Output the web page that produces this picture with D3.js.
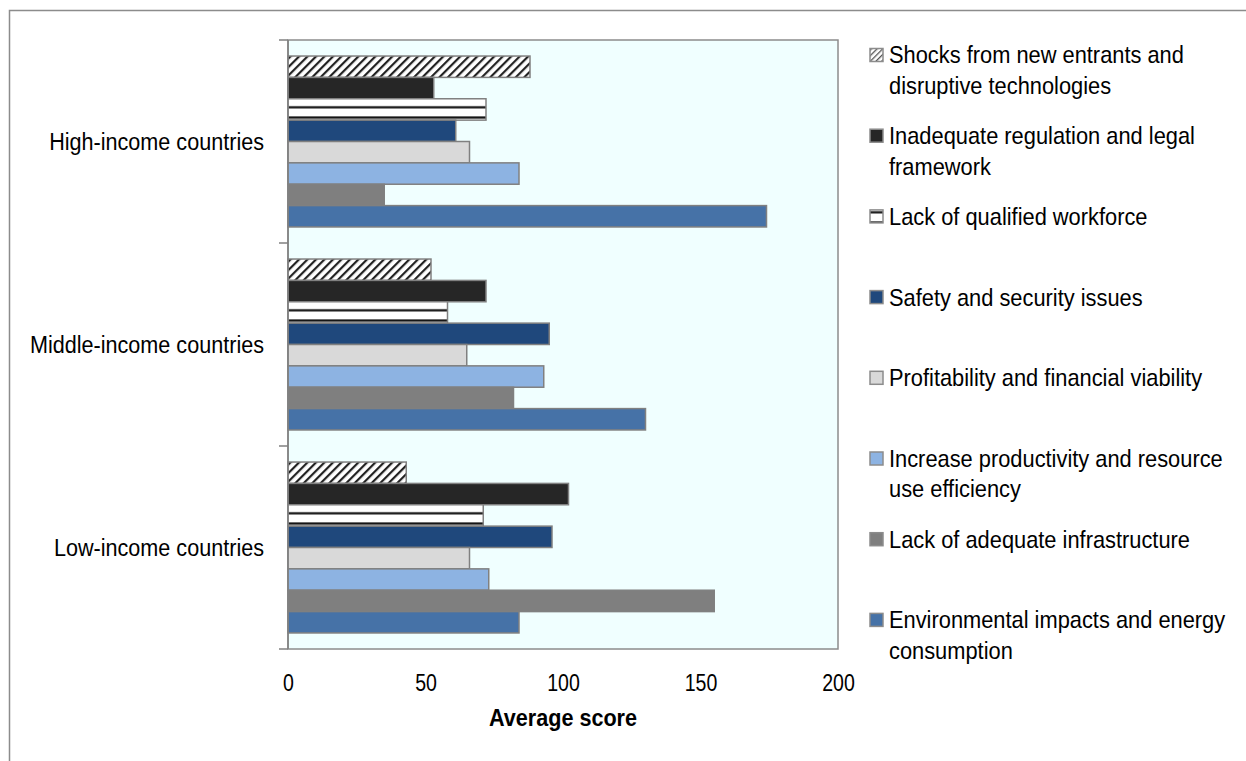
<!DOCTYPE html>
<html><head><meta charset="utf-8">
<script src="https://cdn.jsdelivr.net/npm/d3@7"></script>
<style>
body{margin:0;background:#fff}
svg{display:block}
text{font-family:"Liberation Sans",Arial,sans-serif;fill:#000}
</style>
</head><body>
<svg id="c" width="1246" height="761"></svg>
<script>
// ---------------- data ----------------
const categories = ["High-income countries", "Middle-income countries", "Low-income countries"];
const seriesNames = [
  "Shocks from new entrants and disruptive technologies",
  "Inadequate regulation and legal framework",
  "Lack of qualified workforce",
  "Safety and security issues",
  "Profitability and financial viability",
  "Increase productivity and resource use efficiency",
  "Lack of adequate infrastructure",
  "Environmental impacts and energy consumption"
];
const legendLines = [
  ["Shocks from new entrants and", "disruptive technologies"],
  ["Inadequate regulation and legal", "framework"],
  ["Lack of qualified workforce"],
  ["Safety and security issues"],
  ["Profitability and financial viability"],
  ["Increase productivity and resource", "use efficiency"],
  ["Lack of adequate infrastructure"],
  ["Environmental impacts and energy", "consumption"]
];
const shocks         = [88, 52, 43];
const regulation     = [53, 72, 102];
const workforce      = [72, 58, 71];
const safety         = [61, 95, 96];
const profitability  = [66, 65, 66];
const productivity   = [84, 93, 73];
const infrastructure = [35, 82, 155];
const environmental  = [174, 130, 84];
const xTicks = [0, 50, 100, 150, 200];
const xTitle = "Average score";

const seriesValues = [shocks, regulation, workforce, safety, profitability, productivity, infrastructure, environmental];
const fills = ["url(#hatch)", "#262626", "url(#hstripe)", "#1F487C", "#D9D9D9", "#8DB3E2", "#7F7F7F", "#4672A7"];

// ---------------- layout ----------------
const svg = d3.select("#c");
const P = {left: 288, right: 838, top: 40, bottom: 649};

const defs = svg.append("defs");
const hatch = defs.append("pattern").attr("id", "hatch").attr("patternUnits", "userSpaceOnUse")
  .attr("width", 6).attr("height", 6).attr("patternTransform", "rotate(45)");
hatch.append("rect").attr("width", 6).attr("height", 6).attr("fill", "#fff");
hatch.append("rect").attr("x", 0).attr("width", 2.2).attr("height", 6).attr("fill", "#222");

const hs = defs.append("pattern").attr("id", "hstripe").attr("patternUnits", "userSpaceOnUse")
  .attr("width", 10).attr("height", 10.2);
hs.append("rect").attr("width", 10).attr("height", 10.2).attr("fill", "#fff");
hs.append("rect").attr("y", 5).attr("width", 10).attr("height", 2.2).attr("fill", "#111");

const hatchS = defs.append("pattern").attr("id", "hatchS").attr("patternUnits", "userSpaceOnUse")
  .attr("width", 4).attr("height", 4).attr("patternTransform", "rotate(45)");
hatchS.append("rect").attr("width", 4).attr("height", 4).attr("fill", "#fff");
hatchS.append("rect").attr("width", 1.3).attr("height", 4).attr("fill", "#555");

// outer frame
svg.append("rect").attr("x", 9.5).attr("y", 10.5).attr("width", 1300).attr("height", 900)
  .attr("fill", "none").attr("stroke", "#8c8c8c").attr("stroke-width", 1.5);

// scales
const x = d3.scaleLinear().domain([0, 200]).range([P.left, P.right]);
const y0 = d3.scaleBand().domain(categories).range([P.top, P.bottom]).padding(0);
const y1 = d3.scaleBand().domain(d3.range(seriesNames.length))
  .range([y0.bandwidth() * 0.079, y0.bandwidth() * 0.921]).padding(0);

// plot background
svg.append("rect").attr("x", P.left).attr("y", P.top).attr("width", P.right - P.left).attr("height", P.bottom - P.top)
  .attr("fill", "#F0FFFF").attr("stroke", "#8c8c8c").attr("stroke-width", 1.5);

// bars
const groups = svg.append("g").selectAll("g").data(categories).join("g")
  .attr("transform", d => `translate(0,${y0(d)})`);
groups.selectAll("rect").data((c, ci) => seriesValues.map((vals, si) => ({si, v: vals[ci]})))
  .join("rect")
  .attr("x", x(0))
  .attr("y", d => y1(d.si))
  .attr("width", d => x(d.v) - x(0))
  .attr("height", y1.bandwidth())
  .attr("fill", d => fills[d.si])
  .attr("stroke", "#808080").attr("stroke-width", 1.5);

// y axis (category boundary ticks)
const yAxisG = svg.append("g").attr("transform", `translate(${P.left},0)`);
yAxisG.append("line").attr("x1", 0).attr("x2", 0).attr("y1", P.top).attr("y2", P.bottom)
  .attr("stroke", "#808080").attr("stroke-width", 1.5);
const bounds = categories.map(c => y0(c)).concat([P.bottom]);
yAxisG.selectAll("line.tk").data(bounds).join("line").attr("class", "tk")
  .attr("x1", -9).attr("x2", 0).attr("y1", d => d).attr("y2", d => d)
  .attr("stroke", "#808080").attr("stroke-width", 1.5);
yAxisG.selectAll("text").data(categories).join("text")
  .attr("text-anchor", "end")
  .attr("transform", d => `translate(-24,${y0(d) + y0.bandwidth() / 2}) scale(0.9,1)`)
  .attr("dy", "0.35em")
  .style("font-size", "24px")
  .text(d => d);

// x axis
const xAxis = d3.axisBottom(x).tickValues(xTicks).tickSize(0).tickPadding(0).tickFormat(d3.format("d"));
const xg = svg.append("g").attr("transform", `translate(0,${P.bottom})`).call(xAxis);
xg.select(".domain").remove();
xg.selectAll("text").attr("y", 42).attr("dy", 0).attr("transform", "scale(0.85,1)")
  .style("font-size", "23px").attr("fill", "#000");

svg.append("text").attr("transform", `translate(${(P.left + P.right) / 2},726) scale(0.9,1)`)
  .attr("text-anchor", "middle").style("font-size", "24px").style("font-weight", "bold").text(xTitle);

// legend
const lg = svg.append("g");
const legendFills = ["url(#hatchS)", "#262626", "url(#hstripe)", "#1F487C", "#D9D9D9", "#8DB3E2", "#7F7F7F", "#4672A7"];
const item = lg.selectAll("g").data(seriesNames).join("g")
  .attr("transform", (d, i) => `translate(870,${55 + i * 80.7})`);
item.append("rect").attr("x", 0).attr("y", -6.5).attr("width", 13).attr("height", 13)
  .attr("fill", (d, i) => legendFills[i]).attr("stroke", "#8c8c8c").attr("stroke-width", 1.5);
item.each(function(d, i) {
  const g = d3.select(this);
  legendLines[i].forEach((ln, k) => {
    g.append("text").attr("transform", `translate(19,${k * 30.5}) scale(0.91,1)`).attr("dy", "0.35em")
      .style("font-size", "24px").text(ln);
  });
});
</script>
</body></html>
